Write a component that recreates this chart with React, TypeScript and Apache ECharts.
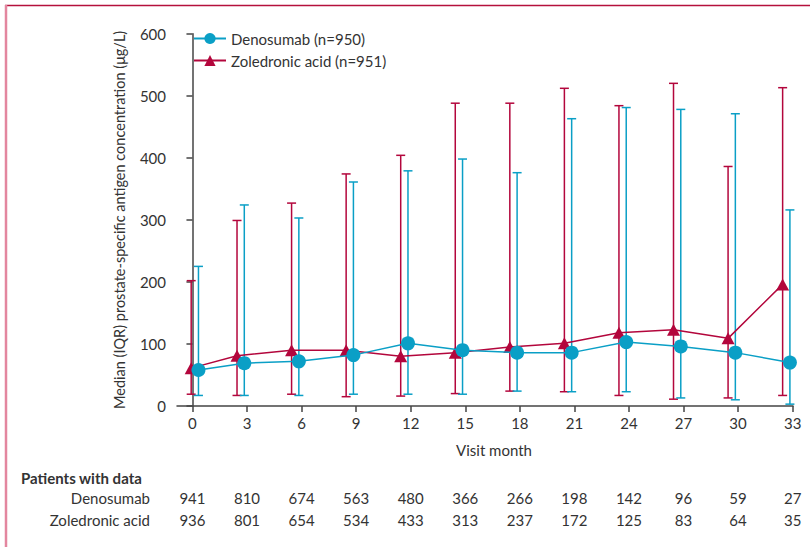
import React, { useEffect, useRef } from "react";
import * as echarts from "echarts";

const months = [0, 3, 6, 9, 12, 15, 18, 21, 24, 27, 30, 33];
const denMedian = [58, 69, 72, 82, 101, 90, 86, 86, 103, 96, 86, 70];
const denQ1 = [17, 17, 17, 19, 19, 19, 24, 23, 23, 13, 10, 3];
const denQ3 = [225, 324, 303, 361, 379, 398, 376, 463, 481, 478, 471, 316];
const zolMedian = [61, 81, 90, 90, 80, 86, 95, 101, 118, 123, 109, 196];
const zolQ1 = [19, 17, 19, 15, 16, 20, 24, 23, 17, 11, 13, 17];
const zolQ3 = [202, 299, 327, 374, 404, 488, 488, 512, 484, 520, 386, 513];
const denN = [941, 810, 674, 563, 480, 366, 266, 198, 142, 96, 59, 27];
const zolN = [936, 801, 654, 534, 433, 313, 237, 172, 125, 83, 64, 35];
const yTicks = [0, 100, 200, 300, 400, 500, 600];

const DEN_COLOR = "#0a9fc6";
const ZOL_COLOR = "#b3063c";
const FONT = "Lato, 'Liberation Sans', sans-serif";
const TEXT = "#333";

// small visual dodge (months) so the two groups don't overlap
const dodge = (i: number, base: number) => base + (i === 0 ? 0.48 : 0);

export default function App() {
  const ref = useRef<HTMLDivElement>(null);
  useEffect(() => {
    if (!ref.current) return;
    const chart = echarts.init(ref.current, undefined, { renderer: "svg" });

    const denX = months.map((m, i) => m + dodge(i, -0.15));
    const zolX = months.map((m, i) => m + dodge(i, -0.55));

    const errRender = (color: string) => (params: any, api: any) => {
      const x = api.value(0);
      const lo = api.coord([x, api.value(1)]);
      const hi = api.coord([x, api.value(2)]);
      const w = 4.5;
      const style = { stroke: color, lineWidth: 1.5 };
      return {
        type: "group",
        children: [
          { type: "line", shape: { x1: lo[0], y1: lo[1], x2: hi[0], y2: hi[1] }, style },
          { type: "line", shape: { x1: hi[0] - w, y1: hi[1], x2: hi[0] + w, y2: hi[1] }, style },
          { type: "line", shape: { x1: lo[0] - w, y1: lo[1], x2: lo[0] + w, y2: lo[1] }, style },
        ],
      };
    };

    const xMin = -0.85;
    const xMax = 33.02;
    const countAxis = (arr: number[], offset: number) => ({
      type: "value",
      min: xMin,
      max: xMax,
      position: "bottom",
      offset,
      axisLine: { show: false },
      axisTick: { show: false },
      splitLine: { show: false },
      axisLabel: {
        customValues: months,
        formatter: (v: number) => {
          const i = months.indexOf(Math.round(v));
          return i >= 0 ? String(arr[i]) : "";
        },
        fontFamily: FONT,
        fontSize: 15,
        color: TEXT,
        margin: 0,
      },
    });

    chart.setOption({
      animation: false,
      grid: { left: 177, right: 17, top: 33.7, bottom: 141, containLabel: false },
      legend: {
        left: 188,
        top: 26,
        orient: "vertical",
        itemWidth: 32,
        itemHeight: 14,
        itemGap: 7,
        textStyle: { fontFamily: FONT, fontSize: 15, color: TEXT },
        data: ["Denosumab (n=950)", "Zoledronic acid (n=951)"],
      },
      xAxis: [
        {
          type: "value",
          min: xMin,
          max: xMax,
          axisLine: { lineStyle: { color: "#444", width: 1.5 } },
          axisTick: { customValues: months, length: 6, lineStyle: { color: "#444", width: 1.5 } },
          splitLine: { show: false },
          axisLabel: {
            customValues: months,
            fontFamily: FONT,
            fontSize: 15,
            color: TEXT,
            margin: 9,
          },
        },
        countAxis(denN, 84),
        countAxis(zolN, 106),
      ],
      yAxis: {
        type: "value",
        min: 0,
        max: 600,
        interval: 100,
        name: "Median (IQR) prostate-specific antigen concentration (μg/L)",
        nameLocation: "middle",
        nameGap: 50,
        nameTextStyle: { fontFamily: FONT, fontSize: 14.5, color: TEXT },
        axisLine: { show: true, lineStyle: { color: "#444", width: 1.5 } },
        axisTick: { show: true, length: 6, lineStyle: { color: "#444", width: 1.5 } },
        splitLine: { show: false },
        axisLabel: {
          customValues: yTicks,
          fontFamily: FONT,
          fontSize: 15,
          color: TEXT,
          margin: 11,
        },
      },
      series: [
        {
          type: "custom",
          name: "zolErr",
          renderItem: errRender(ZOL_COLOR),
          data: months.map((_, i) => [zolX[i], zolQ1[i], zolQ3[i]]),
          encode: { x: 0, y: [1, 2] },
          z: 1,
          silent: true,
        },
        {
          type: "custom",
          name: "denErr",
          renderItem: errRender(DEN_COLOR),
          data: months.map((_, i) => [denX[i], denQ1[i], denQ3[i]]),
          encode: { x: 0, y: [1, 2] },
          z: 2,
          silent: true,
        },
        {
          type: "line",
          name: "Zoledronic acid (n=951)",
          data: months.map((_, i) => [zolX[i], zolMedian[i]]),
          symbol: "triangle",
          symbolSize: [13, 12],
          showSymbol: true,
          lineStyle: { color: ZOL_COLOR, width: 1.5 },
          itemStyle: { color: ZOL_COLOR },
          z: 3,
        },
        {
          type: "line",
          name: "Denosumab (n=950)",
          data: months.map((_, i) => [denX[i], denMedian[i]]),
          symbol: "circle",
          symbolSize: 14,
          showSymbol: true,
          lineStyle: { color: DEN_COLOR, width: 1.5 },
          itemStyle: { color: DEN_COLOR },
          z: 4,
        },
      ],
      graphic: [
        { type: "line", shape: { x1: 5, y1: 5.5, x2: 810, y2: 5.5 }, style: { stroke: "#b5103c", lineWidth: 1.5 } },
        { type: "line", shape: { x1: 6, y1: 5, x2: 6, y2: 547 }, style: { stroke: "#e3869f", lineWidth: 2.5 } },
        {
          type: "text",
          x: 494,
          y: 450,
          style: { text: "Visit month", fontFamily: FONT, fontSize: 15, fill: TEXT, textAlign: "center", textVerticalAlign: "middle" },
        },
        {
          type: "text",
          x: 21,
          y: 478,
          style: { text: "Patients with data", fontFamily: FONT, fontSize: 15, fontWeight: "bold", fill: TEXT, textAlign: "left", textVerticalAlign: "middle" },
        },
        {
          type: "text",
          x: 150,
          y: 498,
          style: { text: "Denosumab", fontFamily: FONT, fontSize: 15, fill: TEXT, textAlign: "right", textVerticalAlign: "middle" },
        },
        {
          type: "text",
          x: 150,
          y: 520,
          style: { text: "Zoledronic acid", fontFamily: FONT, fontSize: 15, fill: TEXT, textAlign: "right", textVerticalAlign: "middle" },
        },
      ],
    });
    return () => chart.dispose();
  }, []);
  return (
    <div
      ref={ref}
      style={{ position: "fixed", left: 0, top: 0, width: 810, height: 547, background: "#fff" }}
    />
  );
}
